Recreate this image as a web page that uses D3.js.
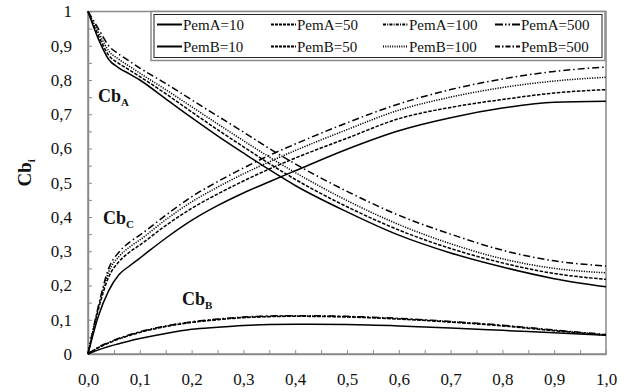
<!DOCTYPE html>
<html>
<head>
<meta charset="utf-8">
<script src="https://cdn.jsdelivr.net/npm/d3@7"></script>
<style>
  body { margin: 0; background: #fff; }
  svg { display: block; }
  svg text { font-family: "Liberation Serif", "Times New Roman", Tinos, "DejaVu Serif", serif; }
</style>
</head>
<body>
<div id="chart"></div>
<script>
// x positions (dimensionless length) shared by all curves
const xs = [0, 0.02, 0.04, 0.06, 0.08, 0.1, 0.15, 0.2, 0.25, 0.3, 0.35, 0.4, 0.5, 0.6, 0.7, 0.8, 0.9, 1.0];

// Cb_A for Pem = 10, 50, 100, 500
const cbA10  = [1, 0.92, 0.86, 0.835, 0.818, 0.80, 0.745, 0.69, 0.637, 0.587, 0.538, 0.492, 0.415, 0.347, 0.295, 0.254, 0.22, 0.196];
const cbA50  = [1, 0.93, 0.872, 0.848, 0.829, 0.81, 0.76, 0.707, 0.655, 0.605, 0.556, 0.51, 0.43, 0.362, 0.308, 0.266, 0.235, 0.218];
const cbA100 = [1, 0.94, 0.885, 0.86, 0.84, 0.82, 0.772, 0.722, 0.672, 0.623, 0.575, 0.53, 0.448, 0.378, 0.322, 0.278, 0.25, 0.237];
const cbA500 = [1, 0.95, 0.9, 0.875, 0.855, 0.835, 0.79, 0.742, 0.695, 0.648, 0.6, 0.555, 0.475, 0.405, 0.35, 0.303, 0.272, 0.257];

// Cb_B
const cbB10  = [0, 0.012, 0.022, 0.03, 0.038, 0.045, 0.06, 0.072, 0.078, 0.083, 0.086, 0.087, 0.086, 0.082, 0.076, 0.069, 0.062, 0.055];
const cbB50  = [0, 0.018, 0.032, 0.044, 0.054, 0.063, 0.08, 0.092, 0.1, 0.106, 0.109, 0.11, 0.108, 0.102, 0.093, 0.082, 0.068, 0.055];
const cbB100 = [0, 0.019, 0.033, 0.045, 0.055, 0.064, 0.081, 0.093, 0.101, 0.107, 0.11, 0.111, 0.109, 0.103, 0.094, 0.083, 0.069, 0.056];
const cbB500 = [0, 0.02, 0.034, 0.046, 0.056, 0.065, 0.082, 0.094, 0.102, 0.108, 0.111, 0.112, 0.11, 0.104, 0.095, 0.084, 0.07, 0.057];

// Cb_C
const cbC10  = [0, 0.11, 0.185, 0.232, 0.257, 0.28, 0.338, 0.39, 0.433, 0.47, 0.503, 0.535, 0.598, 0.652, 0.69, 0.718, 0.735, 0.738];
const cbC50  = [0, 0.13, 0.225, 0.27, 0.297, 0.318, 0.375, 0.425, 0.467, 0.505, 0.54, 0.572, 0.63, 0.687, 0.72, 0.743, 0.762, 0.772];
const cbC100 = [0, 0.135, 0.24, 0.285, 0.312, 0.333, 0.392, 0.444, 0.487, 0.526, 0.561, 0.594, 0.655, 0.712, 0.75, 0.778, 0.797, 0.808];
const cbC500 = [0, 0.14, 0.25, 0.298, 0.326, 0.347, 0.405, 0.459, 0.503, 0.543, 0.58, 0.613, 0.675, 0.73, 0.772, 0.803, 0.825, 0.838];

const legendLabels = ["PemA=10", "PemA=50", "PemA=100", "PemA=500",
                      "PemB=10", "PemB=50", "PemB=100", "PemB=500"];
const xTicks = d3.range(0, 1.0001, 0.05);
const yTicks = d3.range(0, 1.0001, 0.05);

const width = 631, height = 392;
const margin = { left: 88, right: 25, top: 11.5, bottom: 38 };

const svg = d3.select("#chart").append("svg")
  .attr("width", width).attr("height", height);
svg.append("rect").attr("width", width).attr("height", height).attr("fill", "#fff");

const x = d3.scaleLinear().domain([0, 1]).range([margin.left, width - margin.right]);
const y = d3.scaleLinear().domain([0, 1]).range([height - margin.bottom, margin.top]);

// dash styles per Pe value (plot curves)
const dashes = { "10": null, "50": "3.5,1.5", "100": "1.2,1.3", "500": "7,3,1.5,3" };

const series = [
  { pe: "10", data: cbA10 }, { pe: "50", data: cbA50 }, { pe: "100", data: cbA100 }, { pe: "500", data: cbA500 },
  { pe: "10", data: cbB10 }, { pe: "50", data: cbB50 }, { pe: "100", data: cbB100 }, { pe: "500", data: cbB500 },
  { pe: "10", data: cbC10 }, { pe: "50", data: cbC50 }, { pe: "100", data: cbC100 }, { pe: "500", data: cbC500 },
];

// frame (top and right borders)
svg.append("rect")
  .attr("x", x(0)).attr("y", y(1))
  .attr("width", x(1) - x(0)).attr("height", y(0) - y(1))
  .attr("fill", "none").attr("stroke", "#8a8a8a").attr("stroke-width", 1.5);

// axes
const fmt = d => {
  const r = Math.round(d * 100);
  if (r % 10 !== 0) return "";
  return d3.format(".1f")(d).replace(".", ",");
};
const fmtY = d => {
  const r = Math.round(d * 100);
  if (r % 10 !== 0) return "";
  if (r === 0) return "0";
  if (r === 100) return "1";
  return d3.format(".1f")(d).replace(".", ",");
};

const xAxis = svg.append("g")
  .attr("transform", `translate(0,${y(0)})`)
  .call(d3.axisBottom(x).tickValues(xTicks).tickFormat(fmt).tickSize(-4).tickSizeOuter(0).tickPadding(19));
const yAxis = svg.append("g")
  .attr("transform", `translate(${x(0)},0)`)
  .call(d3.axisLeft(y).tickValues(yTicks).tickFormat(fmtY).tickSize(-4).tickSizeOuter(0).tickPadding(16));

[xAxis, yAxis].forEach(g => {
  g.attr("font-family", null);
  g.select(".domain").attr("stroke", "#8a8a8a").attr("stroke-width", 1.5);
  g.selectAll(".tick line").attr("stroke", "#8a8a8a").attr("stroke-width", 1);
  g.selectAll("text").attr("font-size", 17).attr("fill", "#111");
});

// curves
const line = d3.line()
  .x((d, i) => x(xs[i]))
  .y(d => y(d))
  .curve(d3.curveMonotoneX);

svg.append("g").selectAll("path")
  .data(series)
  .join("path")
  .attr("d", s => line(s.data))
  .attr("fill", "none")
  .attr("stroke", "#000")
  .attr("stroke-width", 1.5)
  .attr("stroke-dasharray", s => dashes[s.pe]);

// curve annotations
function subLabel(px, py, main, sub) {
  const t = svg.append("text")
    .attr("x", px).attr("y", py)
    .attr("font-weight", "bold").attr("font-size", 18)
    .attr("fill", "#111");
  t.append("tspan").text(main);
  t.append("tspan").attr("dy", 4).attr("font-size", 11).text(sub);
  return t;
}
subLabel(98, 102, "Cb", "A");
subLabel(103, 224, "Cb", "C");
subLabel(182, 305, "Cb", "B");

// y axis title
const yt = svg.append("text")
  .attr("transform", `translate(31,${(y(0) + y(1)) / 2 - 10}) rotate(-90)`)
  .attr("text-anchor", "middle")
  .attr("font-weight", "bold").attr("font-size", 19)
  .attr("fill", "#111");
yt.append("tspan").text("Cb");
yt.append("tspan").attr("dy", 4).attr("font-size", 11).text("i");

// legend
const legendDash = [null, "3,1", "3,1.2,1,1.2", "8,2,1.5,2,1.5,2",
                    null, "3,1", "1,1.3", "5,2,1.5,2"];
const colX = [157, 271, 383, 495];
const rowY = [24.5, 46.5];
const lg = svg.append("g");
lg.append("rect")
  .attr("x", 151).attr("y", 11.5).attr("width", 454).attr("height", 49)
  .attr("fill", "#fff").attr("stroke", "#8a8a8a").attr("stroke-width", 1.5);
lg.append("rect")
  .attr("x", 154).attr("y", 14.5).attr("width", 448).attr("height", 43)
  .attr("fill", "none").attr("stroke", "#222").attr("stroke-width", 1);

legendLabels.forEach((lab, i) => {
  const cx = colX[i % 4], cy = rowY[Math.floor(i / 4)];
  lg.append("line")
    .attr("x1", cx).attr("x2", cx + 25).attr("y1", cy).attr("y2", cy)
    .attr("stroke", "#000").attr("stroke-width", 2)
    .attr("stroke-dasharray", legendDash[i]);
  lg.append("text")
    .attr("x", cx + 26).attr("y", cy + 5)
    .attr("font-size", 15).attr("fill", "#111")
    .text(lab);
});
</script>
</body>
</html>
